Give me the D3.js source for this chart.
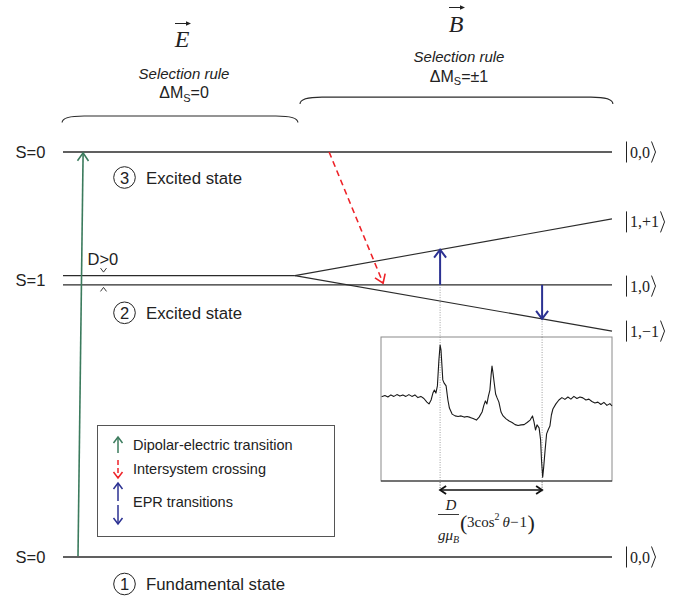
<!DOCTYPE html>
<html><head><meta charset="utf-8">
<script src="https://cdn.jsdelivr.net/npm/d3@7"></script>
<style>body{margin:0;background:#fff}svg{display:block}</style>
</head><body>
<svg id="c" width="674" height="599"></svg>
<script>
// ---------- data ----------
const fieldDomain = [0, 183];          // magnetic field (arb. units)
const energyDomain = [0, 135];         // energy (arb. units)
const singletEnergies = [135, 0];      // S=0 excited, S=0 ground
const tripletZeroField = [93.8, 90.7]; // |1,±1> and |1,0> at B=0
const splitField = 77.3;               // field where Zeeman splitting begins
const tripletEndEnergy = [112.7, 90.7, 75.3]; // |1,+1>, |1,0>, |1,-1> at max field
const spinLabels = ["S=0", "S=1", "S=0"];
const spinLabelEnergy = [135, 92.3, 0];
const ketLabels = ["0,0", "1,+1", "1,0", "1,\u22121", "0,0"];
const ketEnergy = [135, 111.7, 90.3, 75.3, 0];
const stateNumbers = ["3", "2", "1"];
const stateNames = ["Excited state", "Excited state", "Fundamental state"];
const stateEnergy = [126.5, 81.4, -9];
const greenField = [5, 6.7], greenEnergy = [0.3, 134.7];
const iscField = [88.7, 106.7], iscEnergy = [135, 91.3];
const eprFields = [125.7, 159.7];
const legendLabels = ["Dipolar-electric transition", "Intersystem crossing", "EPR transitions"];
const spectrumField = [106.2,107.3,108.3,109.3,110.3,111.3,112.3,113.3,114.3,115.3,116.3,117.3,118.3,119.3,120.3,121.3,122.0,122.7,123.3,123.8,124.3,124.8,125.3,125.7,126.0,126.3,126.6,127.0,127.7,128.3,128.8,129.7,130.7,131.7,132.7,133.7,134.7,135.7,136.7,137.8,138.7,139.7,140.3,140.8,141.3,141.8,142.3,142.7,143.0,143.3,143.7,144.2,144.7,145.3,146.0,146.7,147.7,148.7,149.7,150.7,151.7,152.7,153.7,154.7,155.7,156.5,157.0,157.5,158.0,158.7,159.2,159.5,159.9,160.2,160.7,161.2,161.7,162.3,162.8,163.3,164.3,165.3,166.3,167.3,168.3,169.3,170.3,171.3,172.3,173.3,174.3,175.3,176.3,177.3,178.3,179.3,180.3,181.3,182.3,183.0];
const spectrumIntensity = [28.1,28.5,28.0,28.7,28.2,28.8,28.3,28.7,28.2,28.8,28.2,28.7,27.8,28.2,27.5,26.3,25.7,27.0,29.3,30.3,29.3,31.7,40.3,45.3,43.7,38.7,33.7,32.7,31.7,27.0,24.3,22.3,21.7,21.5,21.7,21.3,21.5,21.2,20.8,20.3,21.3,23.0,25.3,26.7,25.7,28.3,30.3,35.3,38.3,36.3,33.0,29.0,27.7,26.3,23.0,21.7,20.7,20.0,19.5,18.8,18.5,18.7,18.8,19.5,20.3,21.7,19.7,17.0,18.7,17.7,13.7,7.0,1.3,4.3,10.3,15.7,17.0,18.3,22.0,24.0,25.7,27.0,27.8,27.2,28.0,27.3,28.2,27.5,28.0,27.7,27.0,27.3,26.5,26.0,26.3,25.5,26.2,25.2,25.8,25.0];
const intensityDomain = [0, 48];

// ---------- setup ----------
const svg = d3.select("#c");
const SANS = "'Liberation Sans', Arial, sans-serif";
const SERIF = "'Liberation Serif', 'Times New Roman', serif";
const LINE = "#2b2b2b", GREEN = "#3b7b5d", RED = "#ee2228", BLUE = "#2b3192";
const x = d3.scaleLinear().domain(fieldDomain).range([63, 612]);
const y = d3.scaleLinear().domain(energyDomain).range([557, 152]);
const yI = d3.scaleLinear().domain(intensityDomain).range([481, 337]);

function chevron(g, x1, y1, x2, y2, len, hw, color, sw) {
  const a = Math.atan2(y2 - y1, x2 - x1);
  const bx = x2 - len * Math.cos(a), by = y2 - len * Math.sin(a);
  const px = -Math.sin(a) * hw, py = Math.cos(a) * hw;
  g.append("path").attr("d", `M${bx+px},${by+py}L${x2},${y2}L${bx-px},${by-py}`)
    .attr("fill", "none").attr("stroke", color).attr("stroke-width", sw)
    .attr("stroke-linejoin", "miter");
}
function arrow(g, x1, y1, x2, y2, color, sw, dash, len, hw) {
  g.append("line").attr("x1", x1).attr("y1", y1).attr("x2", x2).attr("y2", y2)
    .attr("stroke", color).attr("stroke-width", sw).attr("stroke-dasharray", dash || null);
  chevron(g, x1, y1, x2, y2, len || 7, hw || 5, color, sw);
}

// ---------- vector headers ----------
const hdr = svg.append("g");
[["E", 182, 46.5, 23.5], ["B", 456, 31.5, 7.5]].forEach(([t, cx, base, ay]) => {
  hdr.append("text").attr("x", cx).attr("y", base).attr("text-anchor", "middle")
    .attr("font-family", SERIF).attr("font-style", "italic").attr("font-size", 24)
    .attr("fill", "#222").text(t);
  hdr.append("line").attr("x1", cx - 7).attr("x2", cx + 8).attr("y1", ay).attr("y2", ay)
    .attr("stroke", "#222").attr("stroke-width", 1);
  hdr.append("path").attr("d", `M${cx+9},${ay}L${cx+4},${ay-2.2}L${cx+4},${ay+2.2}Z`).attr("fill", "#222");
});
function selection(cx, y1, y2, rest) {
  hdr.append("text").attr("x", cx).attr("y", y1).attr("text-anchor", "middle")
    .attr("font-family", SANS).attr("font-style", "italic").attr("font-size", 15)
    .attr("fill", "#222").text("Selection rule");
  const t = hdr.append("text").attr("x", cx).attr("y", y2).attr("text-anchor", "middle")
    .attr("font-family", SANS).attr("font-size", 16).attr("fill", "#222");
  t.append("tspan").text("\u0394M");
  t.append("tspan").attr("font-size", 11).attr("dy", 3.5).text("S");
  t.append("tspan").attr("dy", -3.5).text(rest);
}
selection(184, 78.5, 98, "=0");
selection(459, 61.5, 81.5, "=\u00b11");

// braces
function brace(f0, f1, eTop, eEnd) {
  const x0 = x(f0), x1 = x(f1), yt = y(eTop), ye = y(eEnd);
  svg.append("path")
    .attr("d", `M${x0},${ye}C${x0},${yt+2} ${x0+8},${yt} ${x0+22},${yt}L${x1-22},${yt}C${x1-8},${yt} ${x1},${yt+2} ${x1},${ye}`)
    .attr("fill", "none").attr("stroke", LINE).attr("stroke-width", 1.1);
}
brace(-0.3, 78.3, 147, 144.8);
brace(79, 183.3, 153.3, 151);

// ---------- energy levels ----------
const lv = svg.append("g").attr("stroke", LINE).attr("stroke-width", 1.3).attr("fill", "none");
singletEnergies.forEach(e => {
  lv.append("line").attr("x1", x(fieldDomain[0])).attr("x2", x(fieldDomain[1]))
    .attr("y1", y(e)).attr("y2", y(e));
});
lv.append("line").attr("x1", x(0)).attr("x2", x(splitField))
  .attr("y1", y(tripletZeroField[0])).attr("y2", y(tripletZeroField[0]));
lv.append("line").attr("x1", x(0)).attr("x2", x(183))
  .attr("y1", y(tripletZeroField[1])).attr("y2", y(tripletEndEnergy[1]));
[0, 2].forEach(i => {
  lv.append("line").attr("x1", x(splitField)).attr("y1", y(tripletZeroField[0]))
    .attr("x2", x(183)).attr("y2", y(tripletEndEnergy[i])).attr("stroke-width", 1.1);
});

// spin labels
svg.append("g").selectAll("text").data(spinLabels).join("text")
  .attr("x", 15.5).attr("y", (d, i) => y(spinLabelEnergy[i]) + 6)
  .attr("font-family", SANS).attr("font-size", 16.5).attr("fill", "#222").text(d => d);

// kets
const kg = svg.append("g");
ketLabels.forEach((k, i) => {
  const yc = y(ketEnergy[i]);
  kg.append("line").attr("x1", 626.5).attr("x2", 626.5).attr("y1", yc - 10.5).attr("y2", yc + 10.5)
    .attr("stroke", "#222").attr("stroke-width", 1);
  const t = kg.append("text").attr("x", 630).attr("y", yc + 5.5)
    .attr("font-family", SERIF).attr("font-size", 16).attr("fill", "#222").text(k);
  const w = t.node().getComputedTextLength();
  const xe = 630 + w + 1.5;
  kg.append("path").attr("d", `M${xe},${yc-10.5}L${xe+4},${yc}L${xe},${yc+10.5}`)
    .attr("fill", "none").attr("stroke", "#222").attr("stroke-width", 1);
});

// D>0 annotation
svg.append("text").attr("x", 87.5).attr("y", 264.5).attr("font-family", SANS)
  .attr("font-size", 16.5).attr("fill", "#222").text("D>0");
const cx0 = 103.5;
svg.append("path").attr("d", `M${cx0-3},${y(tripletZeroField[0])-7.5}L${cx0},${y(tripletZeroField[0])-3.5}L${cx0+3},${y(tripletZeroField[0])-7.5}`)
  .attr("fill", "none").attr("stroke", "#222").attr("stroke-width", 0.9);
svg.append("path").attr("d", `M${cx0-3},${y(tripletZeroField[1])+6.5}L${cx0},${y(tripletZeroField[1])+2.5}L${cx0+3},${y(tripletZeroField[1])+6.5}`)
  .attr("fill", "none").attr("stroke", "#222").attr("stroke-width", 0.9);

// state names with circled numbers
stateNumbers.forEach((n, i) => {
  const yc = y(stateEnergy[i]);
  svg.append("circle").attr("cx", 124.5).attr("cy", yc).attr("r", 10.8)
    .attr("fill", "none").attr("stroke", "#222").attr("stroke-width", 1);
  svg.append("text").attr("x", 124.5).attr("y", yc + 6).attr("text-anchor", "middle")
    .attr("font-family", SANS).attr("font-size", 16.5).attr("fill", "#222").text(n);
  svg.append("text").attr("x", 146).attr("y", yc + 6)
    .attr("font-family", SANS).attr("font-size", 16.8).attr("fill", "#222").text(stateNames[i]);
});

// ---------- transitions ----------
const tg = svg.append("g");
arrow(tg, x(greenField[0]), y(greenEnergy[0]), x(greenField[1]), y(greenEnergy[1]), GREEN, 1.6, null, 8, 5.5);
arrow(tg, x(iscField[0]), y(iscEnergy[0]), x(iscField[1]), y(iscEnergy[1]), RED, 1.6, "6,4", 8, 5.5);

function onLine(f, eEnd) {
  const t = (f - splitField) / (183 - splitField);
  return tripletZeroField[0] + t * (eEnd - tripletZeroField[0]);
}
const eprTargets = [onLine(eprFields[0], tripletEndEnergy[0]), onLine(eprFields[1], tripletEndEnergy[2])];
// dotted guides
eprFields.forEach((f, i) => {
  tg.append("line").attr("x1", x(f)).attr("x2", x(f)).attr("y1", y(eprTargets[i])).attr("y2", 492)
    .attr("stroke", "#888").attr("stroke-width", 0.8).attr("stroke-dasharray", "1,1.5");
});
eprFields.forEach((f, i) => {
  arrow(tg, x(f), y(tripletZeroField[1]), x(f), y(eprTargets[i]), BLUE, 2, null, 8, 6);
});

// ---------- EPR spectrum inset ----------
const ins = svg.append("g");
ins.append("rect").attr("x", x(106)).attr("y", yI(48)).attr("width", x(183) - x(106)).attr("height", yI(0) - yI(48))
  .attr("fill", "#fff").attr("stroke", "#8a8a8a").attr("stroke-width", 1);
ins.append("line").attr("x1", x(106)).attr("x2", x(183)).attr("y1", yI(0)).attr("y2", yI(0))
  .attr("stroke", "#222").attr("stroke-width", 1.2);
eprFields.forEach(f => {
  ins.append("line").attr("x1", x(f)).attr("x2", x(f)).attr("y1", yI(48)).attr("y2", 492)
    .attr("stroke", "#888").attr("stroke-width", 0.8).attr("stroke-dasharray", "1,1.5");
});
const spec = d3.line().x(d => x(d[0])).y(d => yI(d[1]));
ins.append("path").datum(spectrumField.map((f, i) => [f, spectrumIntensity[i]]))
  .attr("d", spec).attr("fill", "none").attr("stroke", "#1a1a1a").attr("stroke-width", 1.1)
  .attr("stroke-linejoin", "round");

// double-headed arrow
const dy = 490;
ins.append("line").attr("x1", x(eprFields[0])).attr("x2", x(eprFields[1])).attr("y1", dy).attr("y2", dy)
  .attr("stroke", "#111").attr("stroke-width", 1.6);
chevron(ins, x(eprFields[1]), dy, x(eprFields[0]), dy, 6, 4, "#111", 1.8);
chevron(ins, x(eprFields[0]), dy, x(eprFields[1]), dy, 6, 4, "#111", 1.8);

// formula
const fx = svg.append("g").attr("font-family", SERIF).attr("fill", "#222");
fx.append("text").attr("x", 451).attr("y", 510).attr("text-anchor", "middle")
  .attr("font-style", "italic").attr("font-size", 15).text("D");
fx.append("line").attr("x1", 438).attr("x2", 459).attr("y1", 514.5).attr("y2", 514.5)
  .attr("stroke", "#222").attr("stroke-width", 0.9);
const den = fx.append("text").attr("x", 448.5).attr("y", 540).attr("text-anchor", "middle")
  .attr("font-style", "italic").attr("font-size", 15);
den.append("tspan").text("g\u03bc");
den.append("tspan").attr("font-size", 10).attr("dy", 3).text("B");
fx.append("text").attr("x", 460).attr("y", 530).attr("font-size", 22).text("(");
const num = fx.append("text").attr("x", 467).attr("y", 527).attr("font-size", 15);
num.append("tspan").text("3cos");
num.append("tspan").attr("font-size", 10).attr("dy", -7).text("2");
num.append("tspan").attr("dy", 7).text("\u2009");
num.append("tspan").attr("font-style", "italic").text("\u03b8");
num.append("tspan").text("\u2212\u200a1");
const nw = num.node().getComputedTextLength();
fx.append("text").attr("x", 467 + nw + 0.5).attr("y", 530).attr("font-size", 22).text(")");

// ---------- legend ----------
const lg = svg.append("g");
lg.append("rect").attr("x", 97.5).attr("y", 425.5).attr("width", 237).attr("height", 111)
  .attr("fill", "#fff").attr("stroke", "#555").attr("stroke-width", 1);
arrow(lg, 118, 453, 118, 437, GREEN, 1.5, null, 6, 4.5);
arrow(lg, 118, 460, 118, 478, RED, 1.5, "5,3", 6, 4.5);
arrow(lg, 118, 501, 118, 483, BLUE, 1.5, null, 6, 4.5);
arrow(lg, 118, 505, 118, 524, BLUE, 1.5, null, 6, 4.5);
const lgY = [449.5, 473.5, 507];
lg.selectAll("text.l").data(legendLabels).join("text").attr("class", "l")
  .attr("x", 133).attr("y", (d, i) => lgY[i])
  .attr("font-family", SANS).attr("font-size", 14.5).attr("fill", "#222").text(d => d);
</script>
</body></html>
